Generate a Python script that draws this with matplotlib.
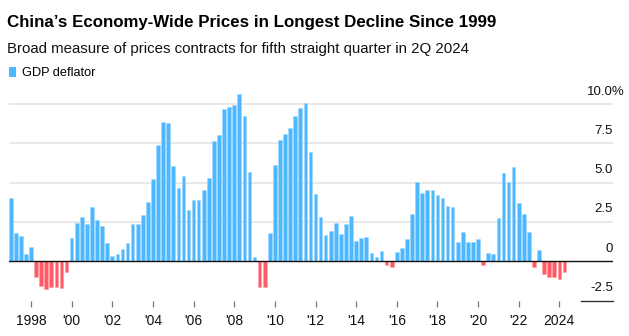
import matplotlib
matplotlib.use("Agg")
import matplotlib.pyplot as plt
from matplotlib.patches import Patch
from matplotlib import transforms
import numpy as np
import pandas as pd

# ---- data (GDP deflator, % y/y, quarterly 1997Q1 - 2024Q2) ----
start_quarter = "1997Q1"
end_quarter = "2024Q2"
deflator_1997_2005 = [4.02, 1.80, 1.63, 0.44,
                      0.89, -0.97, -1.55, -1.74,
                      -1.61, -1.61, -1.72, -0.66,
                      1.48, 2.42, 2.80, 2.37,
                      3.45, 2.61, 2.25, 1.17,
                      0.32, 0.47, 0.76, 1.19,
                      2.37, 2.37, 2.94, 3.77,
                      5.25, 7.37, 8.83, 8.77,
                      6.04, 4.68, 5.42, 3.24]
deflator_2006_2015 = [3.92, 3.92, 4.51, 5.30,
                      7.65, 8.03, 9.66, 9.79,
                      9.92, 10.64, 9.22, 5.68,
                      0.25, -1.61, -1.61, 1.80,
                      6.12, 7.71, 8.09, 8.47,
                      9.24, 9.72, 10.08, 6.93,
                      4.28, 2.80, 1.65, 1.93,
                      2.44, 1.74, 2.37, 2.86,
                      1.27, 1.46, 1.55, 0.51,
                      0.30, 0.64, -0.21, -0.38]
deflator_2016_2024 = [0.59, 0.85, 1.40, 3.01,
                      5.02, 4.34, 4.53, 4.53,
                      4.22, 4.03, 3.52, 3.45,
                      1.23, 1.86, 1.21, 1.21,
                      1.42, -0.23, 0.51, 0.44,
                      2.75, 5.61, 5.02, 5.97,
                      3.71, 3.01, 1.86, -0.38,
                      0.74, -0.83, -0.97, -1.02,
                      -1.10, -0.70]
y_ticks = [-2.5, 0, 2.5, 5.0, 7.5, 10.0]
y_tick_labels = ["-2.5", "0", "2.5", "5.0", "7.5", "10.0%"]
x_tick_years = list(range(1998, 2025, 2))
x_tick_labels = ["1998"] + ["'%02d" % (y % 100) for y in x_tick_years[1:-1]] + ["2024"]

title = "China\u2019s Economy-Wide Prices in Longest Decline Since 1999"
subtitle = "Broad measure of prices contracts for fifth straight quarter in 2Q 2024"
legend_label = "GDP deflator"

# ---- build ----
values = np.array(deflator_1997_2005 + deflator_2006_2015 + deflator_2016_2024)
periods = pd.period_range(start_quarter, end_quarter, freq="Q")
x = periods.year + (periods.quarter - 1) / 4.0

BLUE = "#4DB8FF"
RED = "#FF5A66"
colors = [BLUE if v >= 0 else RED for v in values]
edges = ["#9ED6FF" if v >= 0 else "#FF9CA3" for v in values]

W, H = 629, 336
fig = plt.figure(figsize=(W / 100, H / 100), dpi=100)
plt.rcParams["font.family"] = ["Liberation Sans", "DejaVu Sans"]

ax_left, ax_right = 9, 613
ax_top, ax_bottom = 88.3, 300.6
ax = fig.add_axes([ax_left / W, 1 - ax_bottom / H,
                   (ax_right - ax_left) / W, (ax_bottom - ax_top) / H])

ax.set_xlim(1996.917, 2026.64)
ax.set_ylim(-2.5, 11.0)

# gridlines
for yt in y_ticks:
    if yt in (0, -2.5):
        continue
    ax.axhline(yt, color="#e3e3e3", lw=1.1, zorder=0)
ax.axhline(-2.5, xmin=(581 - ax_left) / (ax_right - ax_left), xmax=1.0,
           color="#333333", lw=1.0, zorder=1, clip_on=False)

ax.bar(x, values, width=0.18, color=colors, edgecolor=edges, linewidth=0.4,
       align="center", zorder=2)
ax.axhline(0, color="#111111", lw=1.0, zorder=3)

for s in ax.spines.values():
    s.set_visible(False)
ax.set_yticks([])
ax.set_xticks(x_tick_years)
ax.set_xticklabels(x_tick_labels, fontsize=10, color="#111111")
ax.tick_params(axis="x", direction="out", length=4.0, width=0.9,
               color="#777777", pad=6)

# y labels above gridlines, right aligned (numbers end at axes edge, % hangs out)
off = transforms.ScaledTranslation(0, 12.5 / 100, fig.dpi_scale_trans)
off_pct = transforms.ScaledTranslation(11.5 / 100, 12.5 / 100, fig.dpi_scale_trans)
trans = transforms.blended_transform_factory(ax.transAxes, ax.transData)
for yt, lab in zip(y_ticks, y_tick_labels):
    t = trans + (off_pct if lab.endswith("%") else off)
    ax.text(1.0, yt, lab, transform=t, ha="right", va="center",
            fontsize=9.5, color="#111111", clip_on=False)

# titles
fig.text(7 / W, 1 - 22 / H, title, fontsize=12.2, fontweight="bold",
         va="center", ha="left", color="#000000")
fig.text(7 / W, 1 - 48.5 / H, subtitle, fontsize=10.8,
         va="center", ha="left", color="#111111")

leg = fig.legend(handles=[Patch(facecolor=BLUE, edgecolor="none", label=legend_label)],
                 loc="center left", bbox_to_anchor=(9 / W, 1 - 73 / H),
                 frameon=False, fontsize=9.2, handlelength=0.55, handleheight=0.9,
                 handletextpad=0.45, borderpad=0, borderaxespad=0)

fig.savefig("out.png", dpi=100)
